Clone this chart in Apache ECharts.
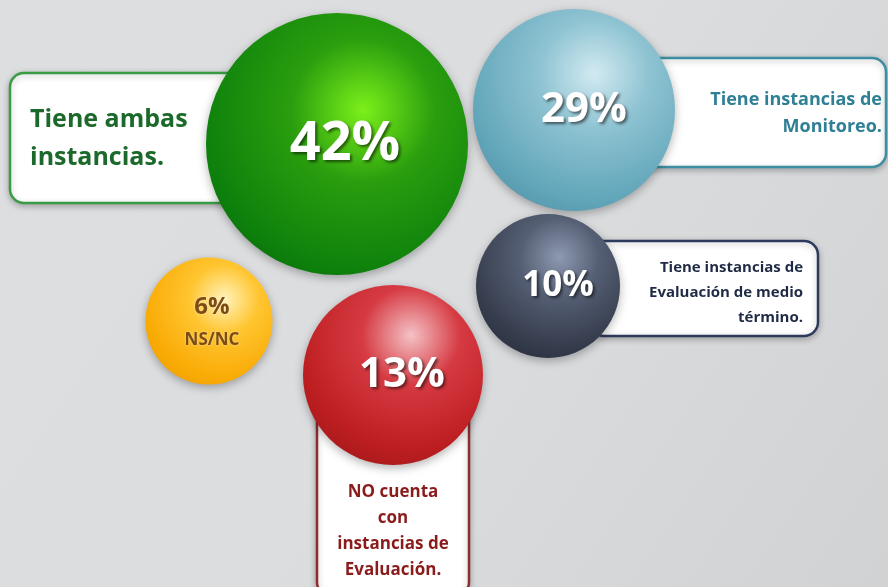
<!DOCTYPE html>
<html>
<head>
<meta charset="utf-8">
<script src="https://cdn.jsdelivr.net/npm/echarts@6/dist/echarts.min.js"></script>
<style>
html,body{margin:0;padding:0;background:#d8d9db;}
#chart{width:888px;height:587px;}
</style>
</head>
<body>
<div id="chart"></div>
<script>
// ---- data ----
const categories = [
  'Tiene ambas\ninstancias.',
  'Tiene instancias de\nMonitoreo.',
  'Tiene instancias de\nEvaluación de medio\ntérmino.',
  'NO cuenta\ncon\ninstancias de\nEvaluación.',
  'NS/NC'
];
const values = [42, 29, 10, 13, 6];

// ---- layout & style (pixel space of the hidden axes) ----
const FONT = '"Open Sans", "Noto Sans", sans-serif';
const layout = [
  {c:[337,144], d:262, off:[8,1], fs:54, hl:[0.6,0.37],
   stops:['#7cf01a','#2a9e0e','#0d800c','#0a660a'],
   box:{x:10,y:73,w:250,h:130,stroke:'#3a9b45'},
   text:{x:30,y:120,align:'left',lh:38,fs:25,color:'#1c6a2b'}},
  {c:[574,110], d:202, off:[10,0], fs:42, hl:[0.6,0.32],
   stops:['#d2eaf1','#8ec3d2','#62a6ba','#5393a8'],
   box:{x:630,y:58,w:256,h:109,stroke:'#3d8ea3'},
   text:{x:882,y:100,align:'right',lh:27,fs:18,color:'#2f7f95'}},
  {c:[548,286], d:144, off:[10,0], fs:35, hl:[0.58,0.3],
   stops:['#8e9ab2','#555f74','#353c4c','#292f3c'],
   box:{x:590,y:241,w:228,h:95,stroke:'#2c3b5c'},
   text:{x:803,y:268,align:'right',lh:25,fs:15,color:'#1f2a44'}},
  {c:[393,375], d:180, off:[9,0], fs:42, hl:[0.6,0.28],
   stops:['#f4c2c6','#d63a42','#bd1e21','#a81a1b'],
   box:{x:317,y:400,w:152,h:196,stroke:'#8e2d2d'},
   text:{x:393,y:492,align:'center',lh:26,fs:17,color:'#8a1c1c'}},
  {c:[209,321], d:127, off:[3,2], fs:24, hl:[0.62,0.33],
   stops:['#fff3bc','#ffc530','#f9ab05','#f0a000'],
   box:null, text:null}
];

// ---- build ----
const graphics = [];
layout.forEach((L, i) => {
  if (L.box) {
    graphics.push({
      type:'rect', z:1,
      shape:{x:L.box.x, y:L.box.y, width:L.box.w, height:L.box.h, r:14},
      style:{fill:'#ffffff', stroke:L.box.stroke, lineWidth:2.5,
             shadowBlur:6, shadowColor:'rgba(0,0,0,0.25)', shadowOffsetY:2}
    });
  }
  if (L.text) {
    categories[i].split('\n').forEach((line, k) => {
      graphics.push({
        type:'text', z:2,
        style:{text:line, x:L.text.x, y:L.text.y + k*L.text.lh,
               fill:L.text.color, font:'bold ' + L.text.fs + 'px ' + FONT,
               textAlign:L.text.align, textVerticalAlign:'middle'}
      });
    });
  }
});

const seriesData = values.map((v, i) => {
  const L = layout[i];
  const isSmall = !L.box;
  return {
    value:[L.c[0], L.c[1], v],
    name:categories[i],
    symbolSize:L.d,
    itemStyle:{
      opacity:1,
      color:{type:'radial', x:L.hl[0], y:L.hl[1], r:0.78, global:false,
        colorStops:[{offset:0,color:L.stops[0]},{offset:0.35,color:L.stops[1]},
                    {offset:0.8,color:L.stops[2]},{offset:1,color:L.stops[3]}]},
      shadowBlur:10, shadowColor:'rgba(0,0,0,0.3)', shadowOffsetY:3
    },
    label: isSmall ? {
      show:true, position:'inside', offset:L.off,
      formatter:(p) => '{p|' + p.value[2] + '%}\n{t|' + categories[i] + '}',
      rich:{
        p:{fontFamily:FONT, fontWeight:'bold', fontSize:L.fs, color:'#7c4c12', lineHeight:34,
           textShadowColor:'rgba(255,255,255,0.6)', textShadowBlur:2},
        t:{fontFamily:FONT, fontWeight:'bold', fontSize:17, color:'#7c4c12', lineHeight:32,
           textShadowColor:'rgba(255,255,255,0.6)', textShadowBlur:2}
      }
    } : {
      show:true, position:'inside', offset:L.off,
      formatter:(p) => p.value[2] + '%',
      fontFamily:FONT, fontWeight:'bold', fontSize:L.fs, color:'#ffffff',
      textShadowColor:'rgba(0,0,0,0.55)', textShadowBlur:3,
      textShadowOffsetX:2, textShadowOffsetY:2
    }
  };
});

const chart = echarts.init(document.getElementById('chart'), null, {renderer:'canvas'});
chart.setOption({
  animation:false,
  backgroundColor:{type:'linear', x:0, y:0, x2:1, y2:1,
    colorStops:[{offset:0,color:'#dddee0'},{offset:0.5,color:'#dcdddf'},{offset:1,color:'#d1d2d4'}]},
  grid:{left:0, right:0, top:0, bottom:0},
  xAxis:{type:'value', min:0, max:888, show:false},
  yAxis:{type:'value', min:0, max:587, inverse:true, show:false},
  graphic:{elements:graphics},
  series:[{
    type:'scatter', z:10, symbol:'circle',
    itemStyle:{opacity:1},
    emphasis:{disabled:true},
    data:seriesData
  }]
});
</script>
</body>
</html>
